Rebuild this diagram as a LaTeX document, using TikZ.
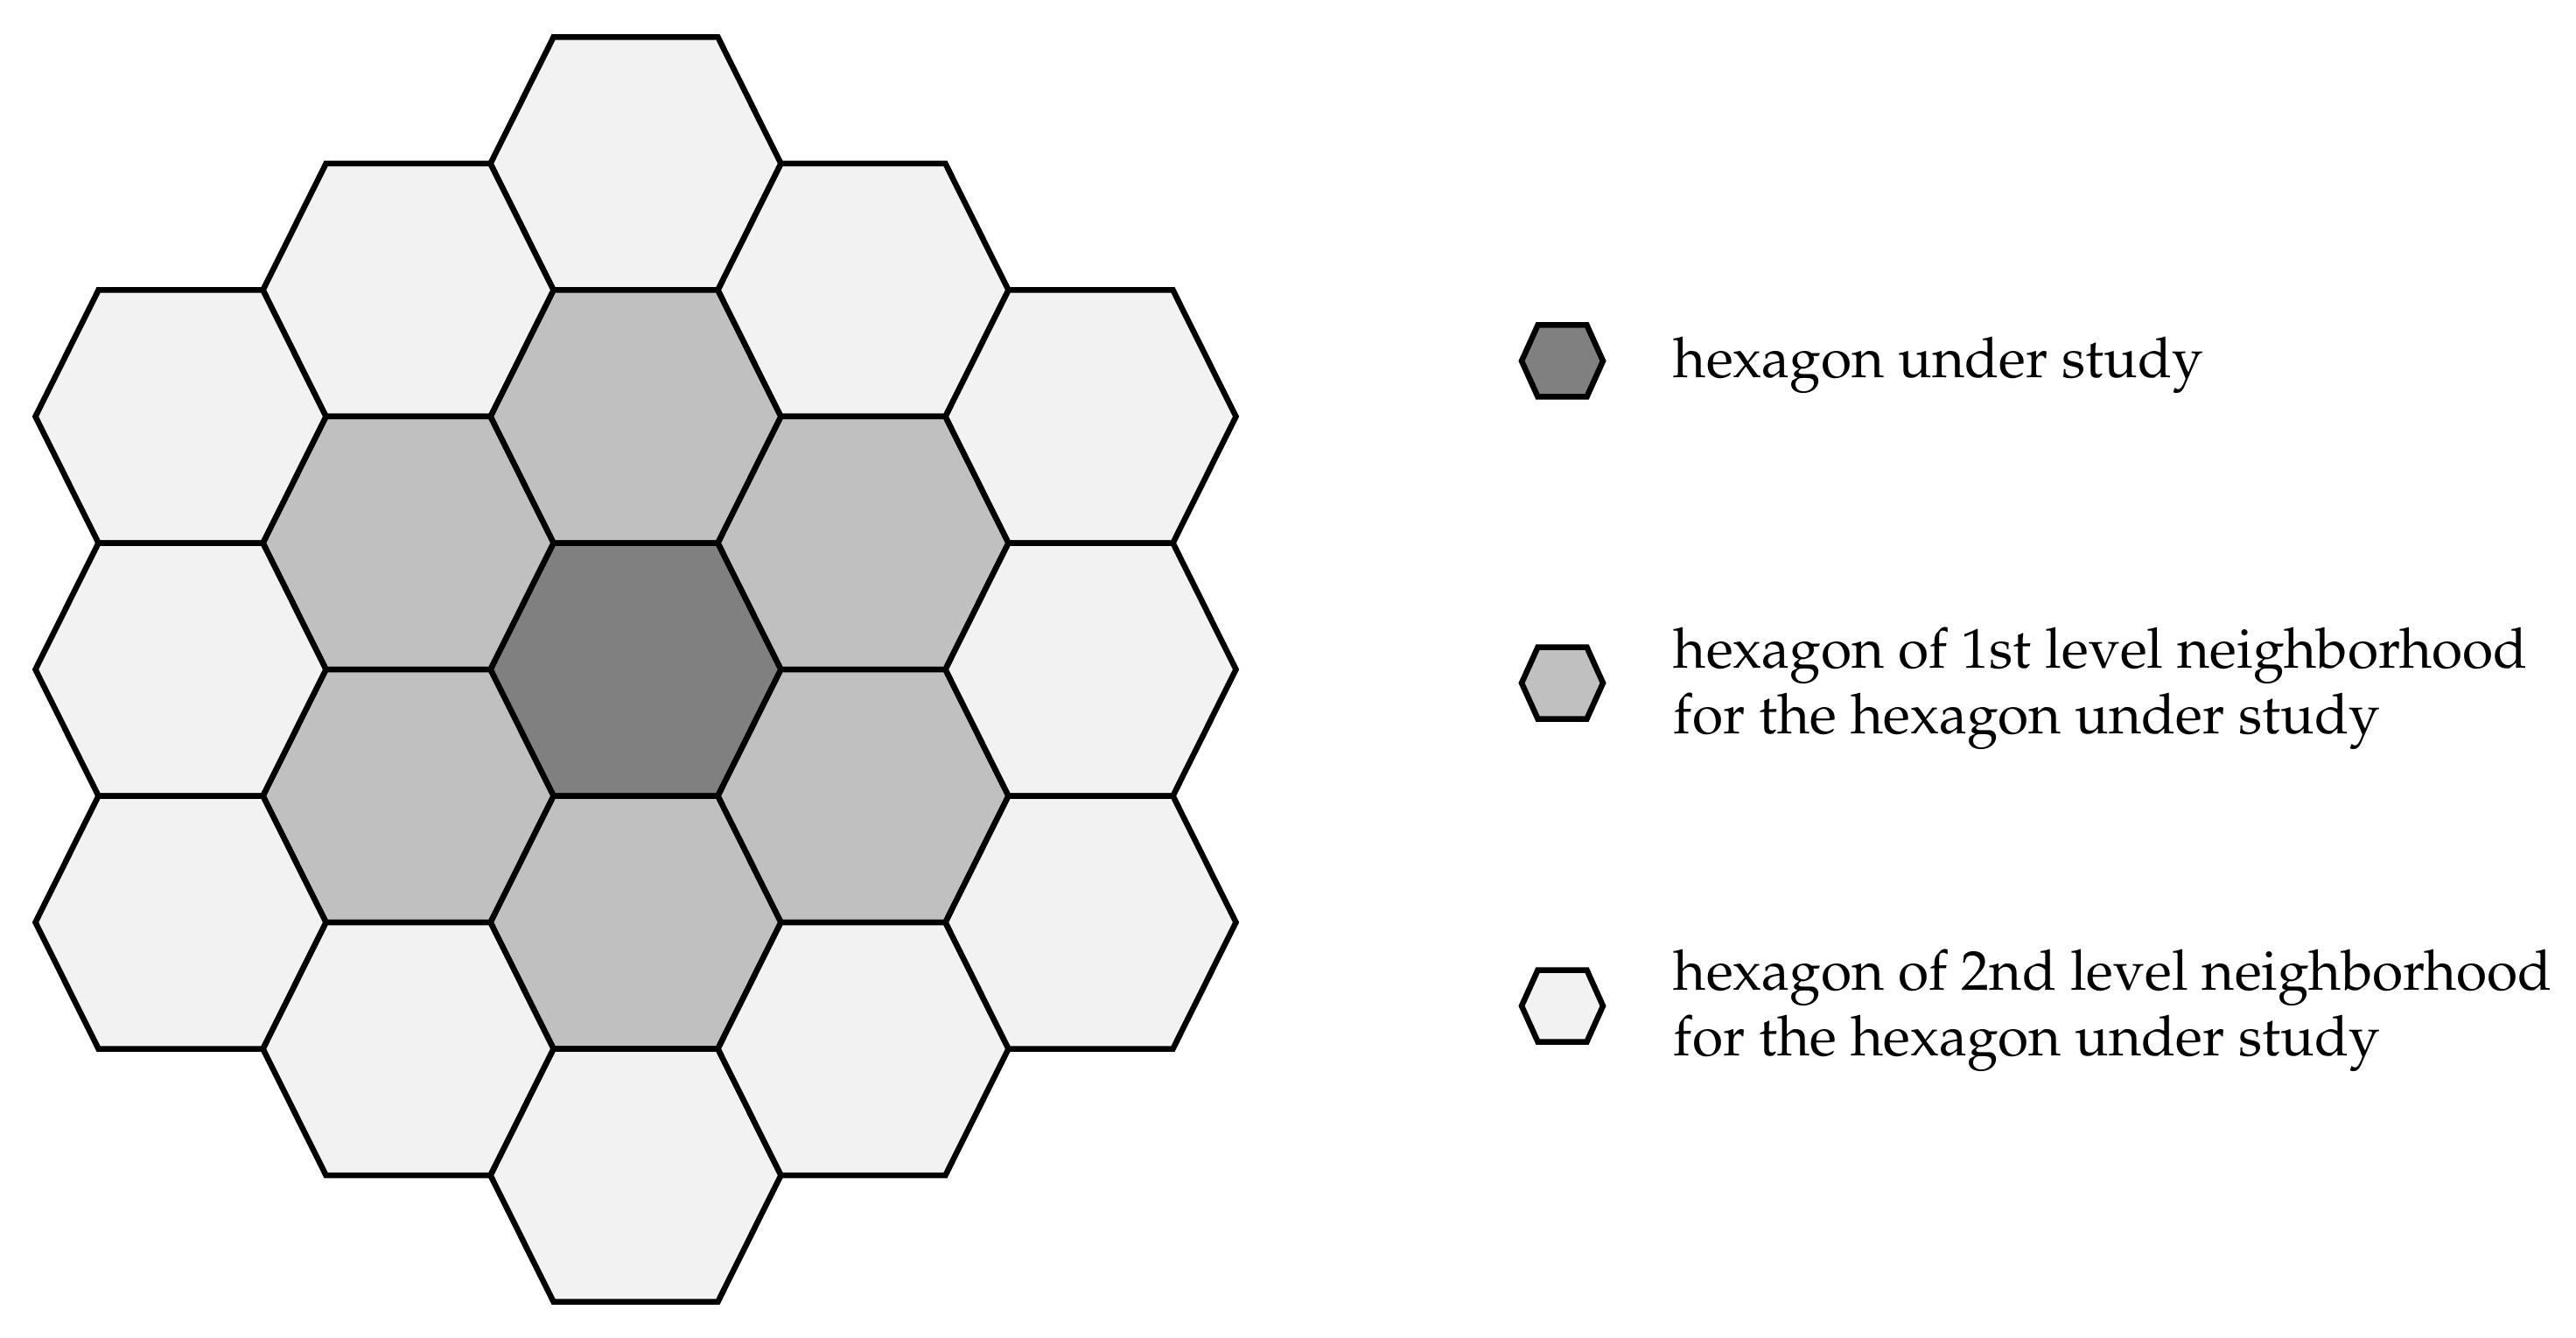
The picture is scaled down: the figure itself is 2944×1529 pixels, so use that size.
\documentclass[tikz,border=0pt]{standalone}
\usepackage[T1]{fontenc}
\usepackage{mathpazo}
\definecolor{lvlzero}{HTML}{808080}
\definecolor{lvlone}{HTML}{C0C0C0}
\definecolor{lvltwo}{HTML}{F2F2F2}
\tikzset{
  hexline/.style={draw=black, line width=1.625pt, line join=miter},
  legtext/.style={anchor=base west, inner sep=0pt, font=\fontsize{16}{18.75}\selectfont}
}
% x, y, fill, half-width, half-top, half-height
\newcommand{\hexcell}[6]{%
  \filldraw[hexline, fill=#3]
    ({#1-#4},{#2}) -- ({#1-#5},{#2-#6}) -- ({#1+#5},{#2-#6}) --
    ({#1+#4},{#2}) -- ({#1+#5},{#2+#6}) -- ({#1-#5},{#2+#6}) -- cycle;}
\begin{document}
\begin{tikzpicture}[x=0.25pt, y=-0.25pt]
  \useasboundingbox (0,0) rectangle (2944,1529);
  % grid of hexagons
  \foreach \hx/\hy/\hc in {
      726.5/187/lvltwo, 726.5/476/lvlone, 726.5/765/lvlzero, 726.5/1054/lvlone, 726.5/1343/lvltwo,
      466.5/331.5/lvltwo, 466.5/620.5/lvlone, 466.5/909.5/lvlone, 466.5/1198.5/lvltwo,
      986.5/331.5/lvltwo, 986.5/620.5/lvlone, 986.5/909.5/lvlone, 986.5/1198.5/lvltwo,
      206.5/476/lvltwo, 206.5/765/lvltwo, 206.5/1054/lvltwo,
      1246.5/476/lvltwo, 1246.5/765/lvltwo, 1246.5/1054/lvltwo} {
    \hexcell{\hx}{\hy}{\hc}{166}{94}{144.5}
  }
  % legend
  \hexcell{1785.5}{412.5}{lvlzero}{46.5}{28}{41}
  \hexcell{1785.5}{780.5}{lvlone}{46.5}{28}{41}
  \hexcell{1785.5}{1149.5}{lvltwo}{46.5}{28}{41}
  \node[legtext] (l1) at (1912,432) {hexagon under study};
  \node[legtext] (l2a) at (1912,763) {hexagon of 1st level neighborhood};
  \node[legtext] (l2b) at (1912,838) {for the hexagon under study};
  \node[legtext] (l3a) at (1912,1131) {hexagon of 2nd level neighborhood};
  \node[legtext] (l3b) at (1912,1206) {for the hexagon under study};
\end{tikzpicture}
\end{document}
